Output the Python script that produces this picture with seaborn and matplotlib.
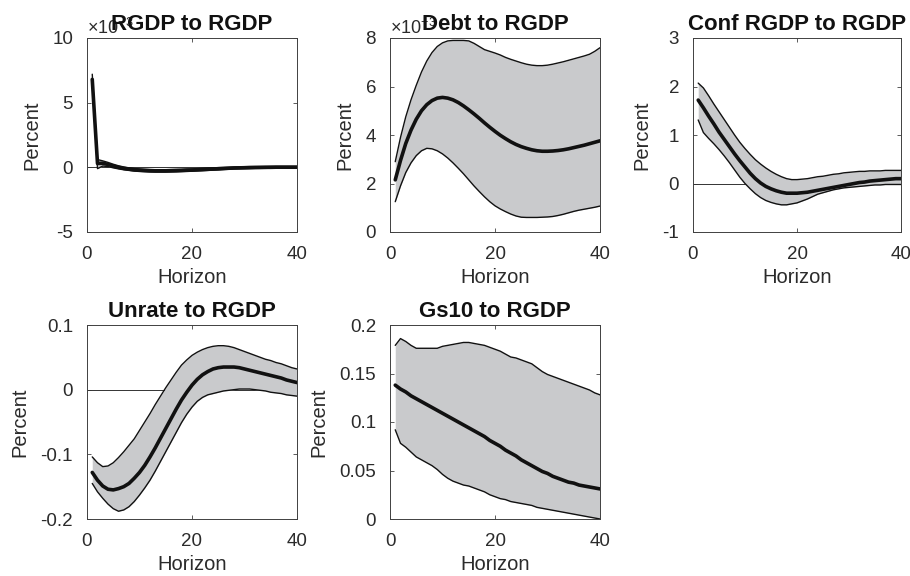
import numpy as np
import pandas as pd
import matplotlib
matplotlib.use("Agg")
import matplotlib.pyplot as plt
from matplotlib.ticker import FuncFormatter
import seaborn as sns

sns.set_style("ticks")
plt.rcParams["font.family"] = ["Liberation Sans", "DejaVu Sans"]
plt.rcParams["axes.unicode_minus"] = False
plt.rcParams["mathtext.fontset"] = "custom"
plt.rcParams["mathtext.rm"] = "Liberation Sans"

horizon = np.arange(1, 41)

# RGDP to RGDP (units of 1e-3)
rgdp_med = [6.8, 0.30, 0.32, 0.22, 0.10, 0.00, -0.08, -0.14, -0.19, -0.22,
            -0.24, -0.26, -0.27, -0.27, -0.27, -0.26, -0.25, -0.24, -0.22, -0.21,
            -0.19, -0.17, -0.15, -0.13, -0.11, -0.09, -0.07, -0.05, -0.04, -0.03,
            -0.02, -0.01, -0.01, 0.00, 0.00, 0.01, 0.01, 0.01, 0.01, 0.01]
rgdp_up = [7.2, 0.60, 0.50, 0.38, 0.24, 0.12, 0.03, -0.04, -0.09, -0.12,
           -0.15, -0.17, -0.18, -0.18, -0.18, -0.17, -0.16, -0.15, -0.13, -0.12,
           -0.10, -0.08, -0.06, -0.04, -0.02, -0.01, 0.01, 0.03, 0.04, 0.05,
           0.06, 0.06, 0.07, 0.07, 0.08, 0.08, 0.08, 0.08, 0.08, 0.08]
rgdp_lo = [6.6, -0.10, 0.10, 0.06, -0.04, -0.12, -0.19, -0.24, -0.29, -0.32,
           -0.34, -0.36, -0.37, -0.37, -0.37, -0.36, -0.35, -0.33, -0.32, -0.30,
           -0.28, -0.26, -0.24, -0.22, -0.20, -0.17, -0.15, -0.13, -0.12, -0.11,
           -0.10, -0.09, -0.08, -0.08, -0.07, -0.07, -0.06, -0.06, -0.06, -0.06]

# Debt to RGDP (units of 1e-3)
debt_med = [2.15, 2.95, 3.65, 4.2, 4.65, 5.0, 5.25, 5.42, 5.52, 5.55,
            5.52, 5.45, 5.34, 5.2, 5.04, 4.87, 4.69, 4.5, 4.32, 4.15,
            3.99, 3.85, 3.72, 3.61, 3.52, 3.45, 3.39, 3.35, 3.33, 3.33,
            3.34, 3.36, 3.39, 3.43, 3.48, 3.53, 3.58, 3.64, 3.70, 3.76]
debt_up = [2.9, 3.9, 4.75, 5.45, 6.05, 6.6, 7.05, 7.4, 7.65, 7.8,
           7.88, 7.9, 7.9, 7.9, 7.88, 7.78, 7.65, 7.52, 7.45, 7.38,
           7.3, 7.2, 7.12, 7.05, 6.98, 6.92, 6.88, 6.86, 6.86, 6.88,
           6.92, 6.97, 7.02, 7.08, 7.14, 7.2, 7.26, 7.33, 7.45, 7.6]
debt_lo = [1.25, 1.9, 2.45, 2.85, 3.15, 3.35, 3.45, 3.43, 3.35, 3.22,
           3.05, 2.85, 2.63, 2.4, 2.15, 1.9, 1.67, 1.45, 1.25, 1.08,
           0.95, 0.84, 0.74, 0.66, 0.61, 0.6, 0.6, 0.6, 0.61, 0.62,
           0.64, 0.68, 0.73, 0.79, 0.85, 0.9, 0.94, 0.98, 1.02, 1.07]

# Conf RGDP to RGDP
conf_med = [1.72, 1.56, 1.39, 1.23, 1.06, 0.91, 0.76, 0.61, 0.47, 0.34,
            0.21, 0.10, 0.01, -0.06, -0.11, -0.15, -0.18, -0.20, -0.20, -0.20,
            -0.19, -0.18, -0.16, -0.14, -0.12, -0.10, -0.08, -0.06, -0.04, -0.02,
            0.00, 0.02, 0.03, 0.05, 0.06, 0.07, 0.08, 0.09, 0.10, 0.10]
conf_up = [2.07, 1.97, 1.81, 1.64, 1.48, 1.32, 1.16, 1.00, 0.85, 0.72,
           0.60, 0.49, 0.40, 0.32, 0.25, 0.19, 0.14, 0.10, 0.08, 0.08,
           0.09, 0.10, 0.12, 0.14, 0.15, 0.17, 0.19, 0.20, 0.22, 0.23,
           0.24, 0.25, 0.25, 0.26, 0.26, 0.26, 0.27, 0.27, 0.27, 0.27]
conf_lo = [1.31, 1.05, 0.93, 0.82, 0.70, 0.57, 0.43, 0.28, 0.13, 0.00,
           -0.11, -0.21, -0.29, -0.35, -0.39, -0.42, -0.44, -0.44, -0.42, -0.40,
           -0.36, -0.32, -0.27, -0.22, -0.19, -0.16, -0.13, -0.11, -0.09, -0.08,
           -0.07, -0.06, -0.05, -0.04, -0.03, -0.03, -0.02, -0.02, -0.02, -0.02]

# Unrate to RGDP
unrate_med = [-0.128, -0.140, -0.149, -0.154, -0.155, -0.153, -0.150, -0.145, -0.137, -0.128,
              -0.117, -0.104, -0.090, -0.075, -0.060, -0.045, -0.030, -0.016, -0.004, 0.007,
              0.016, 0.023, 0.028, 0.032, 0.034, 0.035, 0.035, 0.035, 0.034, 0.032,
              0.030, 0.028, 0.026, 0.024, 0.022, 0.020, 0.018, 0.015, 0.013, 0.011]
unrate_up = [-0.104, -0.113, -0.119, -0.118, -0.113, -0.105, -0.096, -0.086, -0.076, -0.063,
             -0.050, -0.037, -0.023, -0.010, 0.003, 0.015, 0.027, 0.038, 0.046, 0.053,
             0.058, 0.062, 0.065, 0.067, 0.068, 0.068, 0.067, 0.065, 0.062, 0.059,
             0.056, 0.053, 0.050, 0.047, 0.045, 0.042, 0.040, 0.037, 0.034, 0.032]
unrate_lo = [-0.145, -0.158, -0.168, -0.177, -0.184, -0.188, -0.186, -0.181, -0.173, -0.163,
             -0.152, -0.140, -0.126, -0.111, -0.096, -0.081, -0.066, -0.051, -0.038, -0.027,
             -0.018, -0.012, -0.008, -0.006, -0.004, -0.002, -0.001, 0.000, 0.001, 0.001,
             0.001, 0.000, -0.001, -0.002, -0.004, -0.005, -0.006, -0.008, -0.009, -0.010]

# Gs10 to RGDP
gs10_med = [0.138, 0.134, 0.131, 0.127, 0.124, 0.121, 0.118, 0.115, 0.112, 0.109,
            0.106, 0.103, 0.100, 0.097, 0.094, 0.091, 0.088, 0.085, 0.081, 0.078,
            0.075, 0.071, 0.068, 0.065, 0.061, 0.058, 0.055, 0.052, 0.049, 0.047,
            0.044, 0.042, 0.040, 0.038, 0.037, 0.035, 0.034, 0.033, 0.032, 0.031]
gs10_up = [0.179, 0.186, 0.183, 0.179, 0.176, 0.176, 0.176, 0.176, 0.176, 0.178,
           0.179, 0.180, 0.181, 0.182, 0.182, 0.181, 0.180, 0.179, 0.177, 0.175,
           0.173, 0.170, 0.167, 0.166, 0.164, 0.162, 0.160, 0.156, 0.152, 0.149,
           0.147, 0.145, 0.143, 0.141, 0.139, 0.137, 0.135, 0.133, 0.130, 0.128]
gs10_lo = [0.092, 0.078, 0.074, 0.069, 0.064, 0.061, 0.058, 0.055, 0.051, 0.046,
           0.042, 0.039, 0.037, 0.035, 0.034, 0.032, 0.030, 0.028, 0.025, 0.023,
           0.021, 0.020, 0.018, 0.017, 0.016, 0.015, 0.014, 0.012, 0.011, 0.010,
           0.009, 0.008, 0.007, 0.006, 0.005, 0.004, 0.003, 0.002, 0.001, 0.000]

titles = ["RGDP to RGDP", "Debt to RGDP", "Conf RGDP to RGDP",
          "Unrate to RGDP", "Gs10 to RGDP"]
scales = [1e-3, 1e-3, 1, 1, 1]
series = [(rgdp_med, rgdp_lo, rgdp_up), (debt_med, debt_lo, debt_up),
          (conf_med, conf_lo, conf_up), (unrate_med, unrate_lo, unrate_up),
          (gs10_med, gs10_lo, gs10_up)]
ylims = [(-5e-3, 10e-3), (0, 8e-3), (-1, 3), (-0.2, 0.1), (0, 0.2)]
yticks = [[-5e-3, 0, 5e-3, 10e-3], [0, 2e-3, 4e-3, 6e-3, 8e-3],
          [-1, 0, 1, 2, 3], [-0.2, -0.1, 0, 0.1], [0, 0.05, 0.1, 0.15, 0.2]]

W, H = 910, 576
fig = plt.figure(figsize=(W / 100, H / 100), dpi=100)
# axes boxes in pixel coordinates: left, top, right, bottom
boxes = [(87, 38, 297, 232), (390, 38, 600, 232), (693, 38, 901, 232),
         (87, 325, 297, 519), (390, 325, 600, 519)]

TEXT = "#2b2b2b"
EDGE = "#404040"
FILL = "#c9cacc"


def scaled_formatter(scale):
    """Tick labels in units of `scale`, with the exponent shown above the axis."""
    if scale == 1:
        return FuncFormatter(lambda v, p: "%g" % round(v, 6))
    exp = int(round(np.log10(scale)))
    fmt = FuncFormatter(lambda v, p: "%g" % round(v / scale, 6))
    fmt.set_offset_string(r"$\times10^{%d}$" % exp)
    return fmt


for i in range(5):
    l, t, r, b = boxes[i]
    ax = fig.add_axes([l / W, 1 - b / H, (r - l) / W, (b - t) / H])
    med, lo, up = (np.asarray(s, dtype=float) * scales[i] for s in series[i])
    df = pd.DataFrame({"Horizon": np.concatenate([horizon] * 3),
                       "value": np.concatenate([med, lo, up]),
                       "band": ["median"] * 40 + ["lower"] * 40 + ["upper"] * 40})

    ax.axhline(0, color="#333333", lw=0.7, zorder=1)
    ax.fill_between(horizon, lo, up, color=FILL, lw=0, zorder=2)
    sns.lineplot(data=df[df.band != "median"], x="Horizon", y="value",
                 units="band", estimator=None, color="#111111", lw=1.0,
                 ax=ax, zorder=3)
    sns.lineplot(data=df[df.band == "median"], x="Horizon", y="value",
                 color="#111111", lw=2.6, ax=ax, zorder=4)

    ax.set_xlim(0, 40)
    ax.set_xticks([0, 20, 40])
    ax.set_ylim(*ylims[i])
    ax.set_yticks(yticks[i])
    ax.yaxis.set_major_formatter(scaled_formatter(scales[i]))
    ax.yaxis.offsetText.set_fontsize(13)
    ax.yaxis.offsetText.set_color(TEXT)

    ax.tick_params(direction="in", top=True, right=True, length=3, width=0.6,
                   colors=EDGE, labelcolor=TEXT, labelsize=13.5)
    ax.tick_params(axis="y", pad=10)
    ax.tick_params(axis="x", pad=10)
    for sp in ax.spines.values():
        sp.set_color(EDGE)
        sp.set_linewidth(0.7)
        sp.set_visible(True)
    ax.set_xlabel("Horizon", fontsize=14.5, color=TEXT, labelpad=4)
    ax.set_ylabel("Percent", fontsize=14.5, color=TEXT, labelpad=8)
    ax.set_title(titles[i], fontsize=16, fontweight="bold", color="#111111",
                 y=1.0, pad=6)

fig.savefig("out.png", dpi=100)
